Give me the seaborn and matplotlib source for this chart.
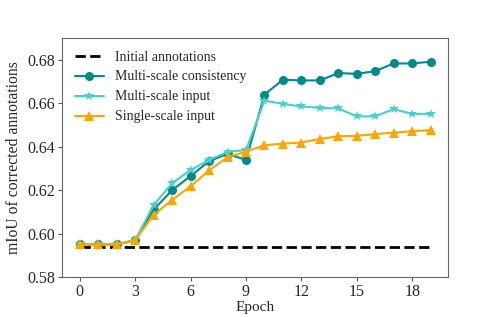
import numpy as np
import pandas as pd
import seaborn as sns
import matplotlib
matplotlib.use("Agg")
import matplotlib.pyplot as plt

epochs = list(range(20))
initial = [0.594] * 20
consistency = [0.595, 0.595, 0.595, 0.597, 0.611, 0.620, 0.6265, 0.6333, 0.6367, 0.6339,
               0.664, 0.6708, 0.6705, 0.6705, 0.6739, 0.6735, 0.6748, 0.6783, 0.6783, 0.6791]
ms_input = [0.595, 0.595, 0.595, 0.597, 0.6132, 0.6232, 0.6293, 0.6339, 0.6376, 0.6385,
            0.6612, 0.6597, 0.6585, 0.6579, 0.6576, 0.6539, 0.6540, 0.6573, 0.6551, 0.6551]
single = [0.595, 0.595, 0.595, 0.597, 0.6086, 0.6155, 0.6218, 0.6291, 0.6352, 0.6377,
          0.6407, 0.6414, 0.6419, 0.6436, 0.6448, 0.6450, 0.6458, 0.6465, 0.6471, 0.6476]

sns.set_style("ticks")
plt.rcParams['font.family'] = ['Liberation Serif', 'DejaVu Serif']

fig = plt.figure(figsize=(4.98, 3.17), dpi=100)
ax = fig.add_axes([0.125, 0.126, 0.775, 0.754])

sns.lineplot(x=epochs, y=initial, ax=ax, color='black', linestyle='--', linewidth=2,
             label='Initial annotations')
sns.lineplot(x=epochs, y=consistency, ax=ax, color='#008B8B', marker='o', markersize=6.5,
             markeredgewidth=0, linewidth=1.5, label='Multi-scale consistency')
sns.lineplot(x=epochs, y=ms_input, ax=ax, color='#48D1CC', marker='*', markersize=7.5,
             markeredgewidth=0, linewidth=1.5, label='Multi-scale input')
sns.lineplot(x=epochs, y=single, ax=ax, color='#FFA500', marker='^', markersize=6.5,
             markeredgewidth=0, linewidth=1.5, label='Single-scale input')

ax.set_ylim(0.58, 0.69)
ax.set_yticks([0.58, 0.60, 0.62, 0.64, 0.66, 0.68])
ax.set_xticks([0, 3, 6, 9, 12, 15, 18])
ax.tick_params(labelsize=11.5, length=3, pad=2, color='#555555')
for s in ax.spines.values():
    s.set_color('#666666')
ax.set_xlabel('Epoch', fontsize=11, labelpad=1)
ax.set_ylabel('mIoU of corrected annotations', fontsize=11.3, labelpad=4)
ax.legend(loc='upper left', frameon=False, fontsize=10, handlelength=2.1,
          labelspacing=0.5)

fig.savefig('out.png', dpi=100)
